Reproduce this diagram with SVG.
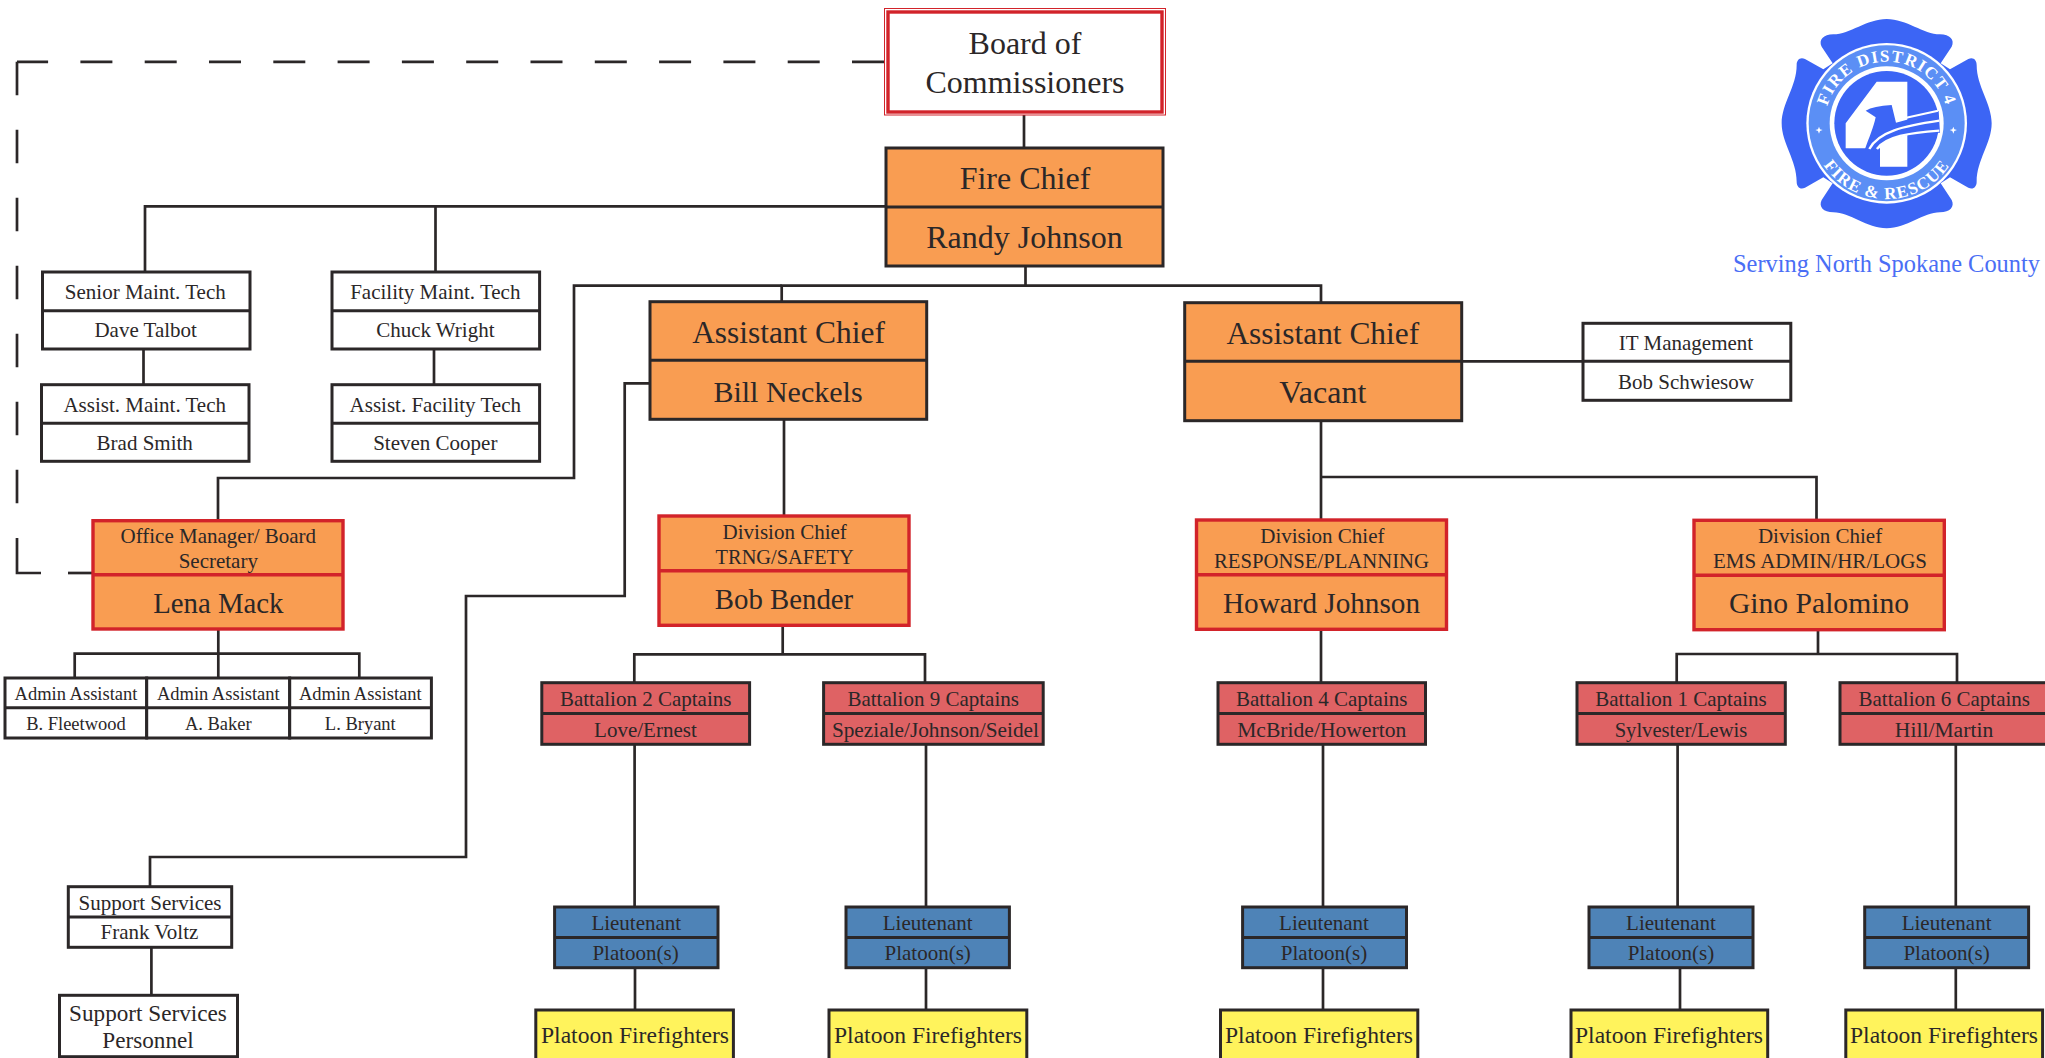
<svg xmlns="http://www.w3.org/2000/svg" width="2045" height="1058" viewBox="0 0 2045 1058">
<style>
text{font-family:"Liberation Serif","Times New Roman",serif;fill:#2b2728;text-anchor:middle}
.c path{fill:none;stroke:#2b2728;stroke-width:2.7}
.k{stroke:#2b2728;stroke-width:3}
.r{stroke:#d2232a;stroke-width:3.4}
.w{fill:#fff}.o{fill:#f99d52}.b{fill:#df6264}.l{fill:#4e83b7}.y{fill:#fff35c}
.t32{font-size:32px}.t31{font-size:31.4px}.t29{font-size:28.8px}.t24{font-size:23.6px}.t21{font-size:21px}.t18{font-size:18.5px}
.logoText{font-family:"Liberation Serif",serif;font-weight:bold;fill:#fff;font-size:17px;letter-spacing:1.3px}
</style>
<rect width="2045" height="1058" fill="#fff"/>
<g id="connectors" class="c">
<path d="M884 61.8H17" stroke-dasharray="32 32.3"/>
<path d="M17 61.8V504" stroke-dasharray="33.5 34.5"/>
<path d="M17 538V573H41"/>
<path d="M68 573H93"/>
<path d="M1024 115V148"/>
<path d="M886 206.4H145V272"/>
<path d="M435.5 206.4V272"/>
<path d="M143.5 350V385"/>
<path d="M434 350V385"/>
<path d="M1025.5 266V285.7"/>
<path d="M781.7 302V285.7H1321V303"/>
<path d="M781.7 285.7H574V478H218V520"/>
<path d="M650 383.3H624.7V596H466V857H150V887"/>
<path d="M151.4 947V995"/>
<path d="M218.3 629V678"/>
<path d="M74.7 678V653.7H359.3V678"/>
<path d="M784 419V516"/>
<path d="M782.7 625V654.3"/>
<path d="M634.3 683V654.3H925V683"/>
<path d="M634.6 744V907"/>
<path d="M926 744V907"/>
<path d="M635 968V1010"/>
<path d="M926 968V1010"/>
<path d="M1461 361.3H1583"/>
<path d="M1321 421V520"/>
<path d="M1321 477H1816.5V520"/>
<path d="M1321 629V683"/>
<path d="M1323 744V907"/>
<path d="M1323 968V1010"/>
<path d="M1818 630V654"/>
<path d="M1676.7 683V654H1957V683"/>
<path d="M1677.6 744V907"/>
<path d="M1680 968V1010"/>
<path d="M1955.8 744V1010"/>
</g>
<g id="board">
<rect x="884.5" y="8.5" width="281" height="106.5" fill="#fff" stroke="#d2232a" stroke-width="1"/>
<rect x="888" y="12" width="274" height="100" fill="#fff" stroke="#d2232a" stroke-width="3.4"/>
<text class="t32" x="1025" y="53.5">Board of</text>
<text class="t32" x="1025" y="93">Commissioners</text>
</g>
<g id="fire-chief">
<rect class="o k" x="886" y="148" width="277" height="118"/>
<path class="k" d="M886 207H1163"/>
<text class="t32" x="1025" y="189">Fire Chief</text>
<text class="t32" x="1024.5" y="248">Randy Johnson</text>
</g>
<g id="senior-maint">
<rect class="w k" x="42.5" y="272" width="207.5" height="77"/>
<path class="k" d="M42.5 310.7H250"/>
<text class="t21" x="145.3" y="299.3">Senior Maint. Tech</text>
<text class="t21" x="145.7" y="337.3">Dave Talbot</text>
</g>
<g id="assist-maint">
<rect class="w k" x="41.5" y="384.7" width="207.5" height="76.6"/>
<path class="k" d="M41.5 423.3H249"/>
<text class="t21" x="144.7" y="412">Assist. Maint. Tech</text>
<text class="t21" x="144.7" y="450">Brad Smith</text>
</g>
<g id="facility-maint">
<rect class="w k" x="332" y="272" width="207.6" height="77"/>
<path class="k" d="M332 310.7H539.6"/>
<text class="t21" x="435.3" y="299.3">Facility Maint. Tech</text>
<text class="t21" x="435.3" y="337.3">Chuck Wright</text>
</g>
<g id="assist-facility">
<rect class="w k" x="332" y="384.7" width="207.6" height="76.6"/>
<path class="k" d="M332 423.3H539.6"/>
<text class="t21" x="435.3" y="412">Assist. Facility Tech</text>
<text class="t21" x="435.3" y="450">Steven Cooper</text>
</g>
<g id="assistant-chief-1">
<rect class="o k" x="650" y="301.7" width="276.7" height="117.6"/>
<path class="k" d="M650 360.3H926.7"/>
<text class="t31" x="788.5" y="343">Assistant Chief</text>
<text font-size="30" x="788" y="402">Bill Neckels</text>
</g>
<g id="assistant-chief-2">
<rect class="o k" x="1184.7" y="302.7" width="277" height="118"/>
<path class="k" d="M1184.7 361.3H1461.7"/>
<text class="t31" x="1322.8" y="344">Assistant Chief</text>
<text class="t32" x="1322.8" y="403">Vacant</text>
</g>
<g id="it-management">
<rect class="w k" x="1583" y="323.3" width="207.8" height="77"/>
<path class="k" d="M1583 361.3H1790.8"/>
<text class="t21" x="1686" y="350">IT Management</text>
<text class="t21" x="1686" y="389">Bob Schwiesow</text>
</g>
<g id="office-manager">
<rect class="o r" x="93" y="520.7" width="250" height="108.3"/>
<path class="r" d="M93 574.7H343"/>
<text class="t21" x="218.3" y="542.7">Office Manager/ Board</text>
<text class="t21" x="218.3" y="568.3">Secretary</text>
<text class="t29" x="218.3" y="612.7">Lena Mack</text>
</g>
<g id="admin-1">
<rect class="w k" x="5" y="678" width="141.7" height="60"/>
<path class="k" d="M5 707.7H146.7"/>
<text class="t18" x="76" y="700">Admin Assistant</text>
<text class="t18" x="76" y="730">B. Fleetwood</text>
</g>
<g id="admin-2">
<rect class="w k" x="146.7" y="678" width="143" height="60"/>
<path class="k" d="M146.7 707.7H289.7"/>
<text class="t18" x="218.3" y="700">Admin Assistant</text>
<text class="t18" x="218.3" y="730">A. Baker</text>
</g>
<g id="admin-3">
<rect class="w k" x="289.7" y="678" width="141.7" height="60"/>
<path class="k" d="M289.7 707.7H431.4"/>
<text class="t18" x="360.3" y="700">Admin Assistant</text>
<text class="t18" x="360.3" y="730">L. Bryant</text>
</g>
<g id="support-services">
<rect class="w k" x="68.3" y="886.7" width="163.4" height="60.6"/>
<path class="k" d="M68.3 917H231.7"/>
<text class="t21" x="150" y="909.5">Support Services</text>
<text class="t21" x="149.4" y="939">Frank Voltz</text>
</g>
<g id="support-personnel">
<rect class="w k" x="59.5" y="995.3" width="178" height="61.4"/>
<text font-size="23.2" x="148" y="1021">Support Services</text>
<text font-size="23.2" x="148" y="1048">Personnel</text>
</g>
<g id="division-training">
<rect class="o r" x="659" y="516" width="250" height="109.3"/>
<path class="r" d="M659 570.7H909"/>
<text class="t21" x="784.7" y="539">Division Chief</text>
<text font-size="20.4" x="784.7" y="564">TRNG/SAFETY</text>
<text class="t29" x="784" y="608.8">Bob Bender</text>
</g>
<g id="division-response">
<rect class="o r" x="1196.5" y="520" width="250" height="109.3"/>
<path class="r" d="M1196.5 574.7H1446.5"/>
<text class="t21" x="1322.4" y="543.3">Division Chief</text>
<text font-size="20.7" x="1321.5" y="567.7">RESPONSE/PLANNING</text>
<text font-size="29.2" x="1321.5" y="612.7">Howard Johnson</text>
</g>
<g id="division-ems">
<rect class="o r" x="1694" y="520.3" width="250.3" height="109.4"/>
<path class="r" d="M1694 575.3H1944.3"/>
<text class="t21" x="1820" y="543">Division Chief</text>
<text class="t21" x="1820" y="567.7">EMS ADMIN/HR/LOGS</text>
<text font-size="29.6" x="1819" y="612.7">Gino Palomino</text>
</g>
<g id="battalion-2">
<rect class="b k" x="541.8" y="682.7" width="207.8" height="61.6"/>
<path class="k" d="M541.8 713.5H749.6"/>
<text class="t21" x="645.7" y="706">Battalion 2 Captains</text>
<text class="t21" x="645.4" y="737">Love/Ernest</text>
</g>
<g id="battalion-9">
<rect class="b k" x="823.6" y="682.7" width="219.6" height="61.6"/>
<path class="k" d="M823.6 713.5H1043.2"/>
<text class="t21" x="933.2" y="706">Battalion 9 Captains</text>
<text font-size="21.3" x="935.4" y="737">Speziale/Johnson/Seidel</text>
</g>
<g id="battalion-4">
<rect class="b k" x="1218" y="682.7" width="207.5" height="61.6"/>
<path class="k" d="M1218 713.5H1425.5"/>
<text class="t21" x="1321.7" y="706">Battalion 4 Captains</text>
<text font-size="21.6" x="1321.7" y="737">McBride/Howerton</text>
</g>
<g id="battalion-1">
<rect class="b k" x="1577" y="682.7" width="208.3" height="61.6"/>
<path class="k" d="M1577 713.5H1785.3"/>
<text class="t21" x="1681" y="706">Battalion 1 Captains</text>
<text font-size="20.6" x="1681" y="737">Sylvester/Lewis</text>
</g>
<g id="battalion-6">
<rect class="b k" x="1840" y="682.7" width="208.3" height="61.6"/>
<path class="k" d="M1840 713.5H2048"/>
<text class="t21" x="1944.3" y="706">Battalion 6 Captains</text>
<text font-size="21.6" x="1944" y="737">Hill/Martin</text>
</g>
<g id="lieutenant-1"><rect class="l k" x="554.6" y="907" width="163.4" height="60.7"/><path class="k" d="M554.6 937.5H718"/><text class="t21" x="636.3" y="930">Lieutenant</text><text class="t21" x="635.6" y="959.5">Platoon(s)</text></g>
<g id="lieutenant-2"><rect class="l k" x="846" y="907" width="163.4" height="60.7"/><path class="k" d="M846 937.5H1009.4"/><text class="t21" x="927.7" y="930">Lieutenant</text><text class="t21" x="927.7" y="959.5">Platoon(s)</text></g>
<g id="lieutenant-3"><rect class="l k" x="1242.6" y="907" width="163.9" height="60.7"/><path class="k" d="M1242.6 937.5H1406.5"/><text class="t21" x="1324" y="930">Lieutenant</text><text class="t21" x="1324" y="959.5">Platoon(s)</text></g>
<g id="lieutenant-4"><rect class="l k" x="1589" y="907" width="164" height="60.7"/><path class="k" d="M1589 937.5H1753"/><text class="t21" x="1671" y="930">Lieutenant</text><text class="t21" x="1671" y="959.5">Platoon(s)</text></g>
<g id="lieutenant-5"><rect class="l k" x="1864.7" y="907" width="163.9" height="60.7"/><path class="k" d="M1864.7 937.5H2028.6"/><text class="t21" x="1946.6" y="930">Lieutenant</text><text class="t21" x="1946.6" y="959.5">Platoon(s)</text></g>
<g id="firefighters-1"><rect class="y k" x="535.8" y="1010" width="197.6" height="60"/><text class="t24" x="635" y="1043">Platoon Firefighters</text></g>
<g id="firefighters-2"><rect class="y k" x="829" y="1010" width="197.8" height="60"/><text class="t24" x="928" y="1043">Platoon Firefighters</text></g>
<g id="firefighters-3"><rect class="y k" x="1220.5" y="1010" width="197.3" height="60"/><text class="t24" x="1319" y="1043">Platoon Firefighters</text></g>
<g id="firefighters-4"><rect class="y k" x="1571" y="1010" width="196.7" height="60"/><text class="t24" x="1669" y="1043">Platoon Firefighters</text></g>
<g id="firefighters-5"><rect class="y k" x="1845.8" y="1010" width="196.8" height="60"/><text class="t24" x="1944" y="1043">Platoon Firefighters</text></g>
<g id="logo">
<g transform="translate(1700 0) scale(.33333)">
<path fill="#3c65f5" d="M400 103C450 103 500 57 560 57C620 57 670 103 720 103C750 103 765 120 755 140L722 190L750 208L805 177C820 170 830 180 830 195C830 260 875 310 875 370C875 430 830 480 830 545C830 560 820 570 805 563L750 532L722 550L755 600C765 620 750 637 720 637C670 637 620 685 560 685C500 685 450 637 400 637C370 637 355 620 365 600L398 550L370 532L315 563C300 570 290 560 290 545C290 480 245 430 245 370C245 310 290 260 290 195C290 180 300 170 315 177L370 208L398 190L365 140C355 120 370 103 400 103Z"/>
<circle cx="560" cy="370" r="241" fill="#fff"/>
<circle cx="560" cy="370" r="234" fill="#5b8ff5"/>
<circle cx="560" cy="370" r="171" fill="#fff"/>
<circle cx="560" cy="370" r="157" fill="#3c65f5"/>
<path fill="#fff" d="M437 370L530 245H622V500H540V445H437Z"/>
<path fill="#3c65f5" d="M497 332Q520 318 575 315L588 368L716 333L720 398C650 398 565 405 527 447H495C508 410 520 385 527 352Q510 340 497 332Z"/>
<path fill="none" stroke="#fff" stroke-width="7" d="M508 447C535 395 610 378 718 362M531 447C555 410 630 398 718 392"/>
<path fill="none" stroke="#fff" stroke-width="6" d="M588 360L714 332"/>
<polygon fill="#fff" points="357,380 360,388 368,390 360,393 357,401 354,393 346,390 354,388"/>
<polygon fill="#fff" points="760,380 763,388 771,390 763,393 760,401 757,393 749,390 757,388"/>
</g>
<path id="arcTop" d="M1825 123.3A61.7 61.7 0 0 1 1948.4 123.3" fill="none"/>
<path id="arcBottom" d="M1811 123.3A75.7 75.7 0 0 0 1962.4 123.3" fill="none"/>
<text class="logoText"><textPath href="#arcTop" startOffset="50%">FIRE DISTRICT 4</textPath></text>
<text class="logoText"><textPath href="#arcBottom" startOffset="50%">FIRE &amp; RESCUE</textPath></text>
<text x="1886.5" y="271.5" font-size="24.4" style="fill:#4a6ef5">Serving North Spokane County</text>
</g>
</svg>
